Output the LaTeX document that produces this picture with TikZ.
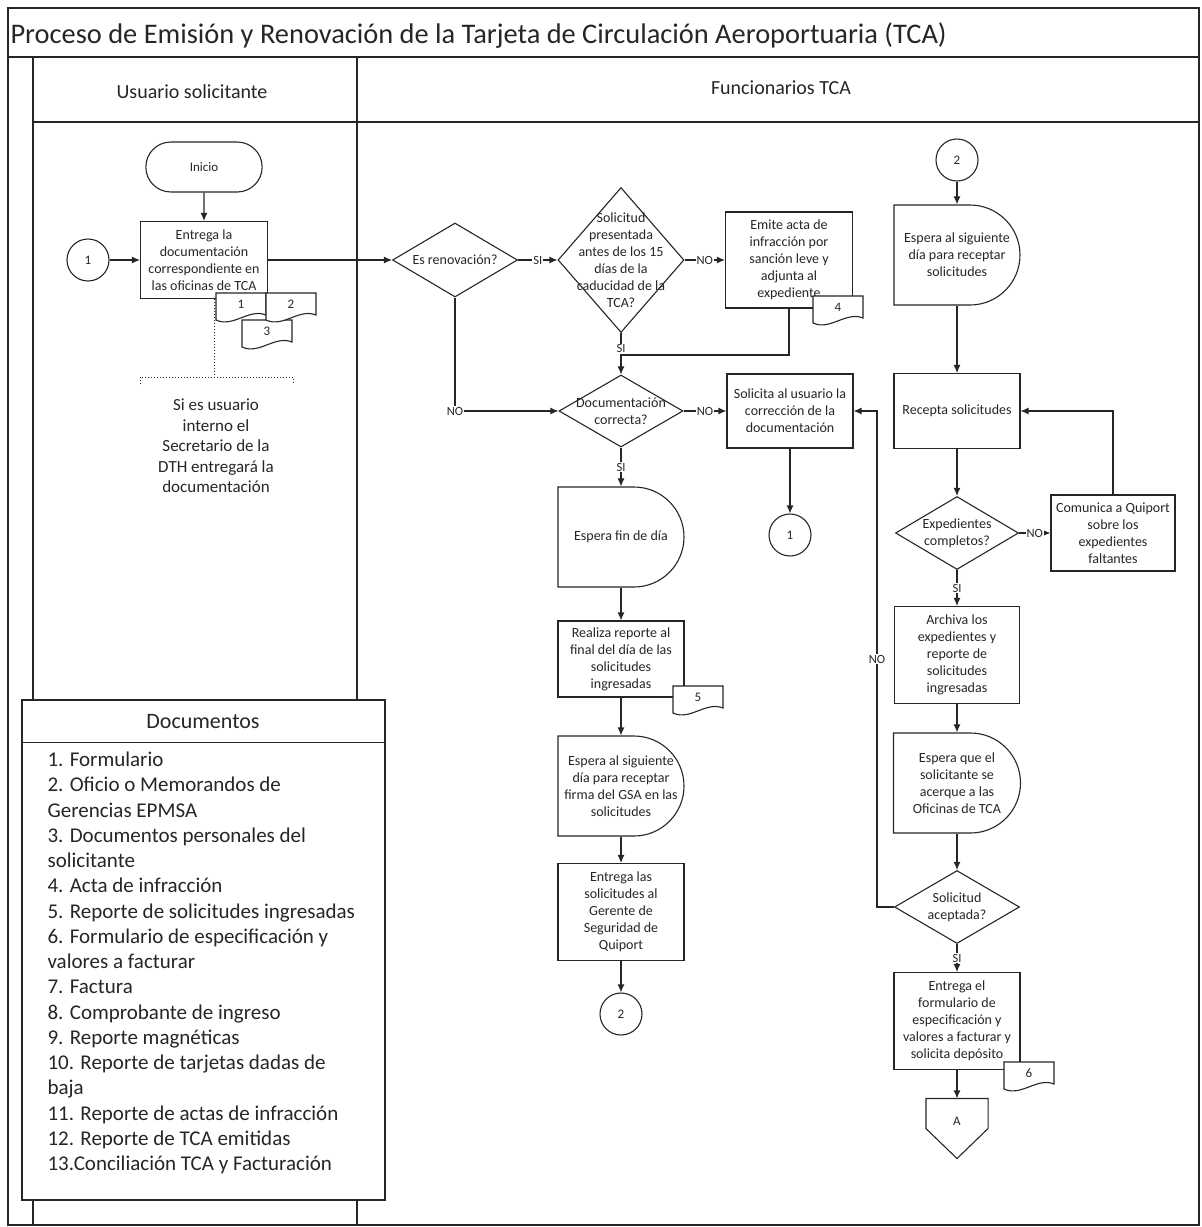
\documentclass[tikz,border=0pt]{standalone}
\usepackage{fontspec}
\setmainfont{Carlito}
\usetikzlibrary{shapes.geometric,shapes.misc,calc,arrows.meta}

% sheet with a wavy lower edge: name, x, y (centre), number
\newcommand{\docsheet}[4]{%
  \draw[fill=white] (#2-25,#3-14) -- (#2+25,#3-14) -- (#2+25,#3+8)
    .. controls (#2+8,#3+1) and (#2-8,#3+21) .. (#2-25,#3+13) -- cycle;
  \node[numtxt] (#1) at (#2,#3-3) {#4};}

\begin{document}
\begin{tikzpicture}[x=1pt, y=-1pt, >={Latex[length=8pt,width=7pt]}, line width=1.1pt, color=black!85,
    font=\fontsize{14}{17}\selectfont,
    box/.style={draw, fill=white, align=center, minimum width=126, minimum height=76, inner sep=2pt},
    startend/.style={rounded rectangle, draw, fill=white, minimum width=123, minimum height=50, font=\fontsize{13}{15}\selectfont},
    decide/.style={diamond, draw, fill=white, inner sep=0pt, minimum width=124, minimum height=73},
    waitbox/.style={rounded rectangle, rounded rectangle left arc=none, draw, fill=white, inner sep=0pt, minimum width=126, minimum height=100},
    intxt/.style={align=center, inner sep=0pt},
    conn/.style={circle, draw, fill=white, minimum size=42, inner sep=0pt, font=\fontsize{13}{15}\selectfont},
    numtxt/.style={inner sep=0pt, font=\fontsize{13}{15}\selectfont},
    lbl/.style={fill=white, inner sep=1pt, font=\fontsize{12.5}{15}\selectfont},
    listtxt/.style={anchor=base west, inner sep=0pt, font=\fontsize{21}{25}\selectfont},
    arr/.style={->},
    lane/.style={line width=1.4pt},
    note/.style={dotted, line width=1pt}]
  \useasboundingbox (0,0) rectangle (1202,1227);

  % frame and lanes
  \draw[lane] (8,8) rectangle (1199,1225);
  \draw[lane] (8,57) -- (1199,57);
  \draw[lane] (33,57) -- (33,1225);
  \draw[lane] (33,122) -- (1199,122);
  \draw[lane] (357,57) -- (357,1225);
  \node[anchor=base west, inner sep=0pt, font=\fontsize{28.4}{34}\selectfont] (title) at (10,43) {Proceso de Emisión y Renovación de la Tarjeta de Circulación Aeroportuaria (TCA)};
  \node[font=\fontsize{20}{24}\selectfont] (hdrU) at (192,92) {Usuario solicitante};
  \node[font=\fontsize{20}{24}\selectfont] (hdrF) at (781,88) {Funcionarios TCA};

  % usuario solicitante
  \node[startend] (inicio) at (204,167) {Inicio};
  \node[box, minimum width=127, minimum height=77] (entrega) at (204,260) {Entrega la\\documentación\\correspondiente en\\las oficinas de TCA};
  \node[conn] (c1a) at (88,260) {1};
  \docsheet{doc3}{267}{334}{3}
  \docsheet{doc1}{241}{307}{1}
  \docsheet{doc2}{291}{307}{2}
  \draw[arr] (inicio) -- (entrega);
  \draw[arr] (c1a) -- (entrega);
  \coordinate (brk) at (214,377);
  \draw[note] (entrega.south -| brk) -- (brk);
  \draw[note] ($(brk)+(-74,7)$) |- ($(brk)+(79,0)$) -- ++(0,7);
  \node[intxt, font=\fontsize{17}{20.5}\selectfont] (nota) at (216,446) {Si es usuario\\interno el\\Secretario de la\\DTH entregará la\\documentación};

  % funcionarios TCA, first column
  \node[decide, minimum width=125, minimum height=74, label={[intxt]center:Es renovación?}] (renov) at (455,260) {};
  \node[decide, minimum width=126, minimum height=145, label={[intxt]center:{Solicitud\\presentada\\antes de los 15\\días de la\\caducidad de la\\TCA?}}] (plazo) at (621,260) {};
  \node[box, minimum width=127, minimum height=96] (emite) at (789,260) {Emite acta de\\infracción por\\sanción leve y\\adjunta al\\expediente};
  \docsheet{doc4}{838}{310}{4}
  \node[decide, minimum width=124, minimum height=72, label={[intxt]center:{Documentación\\correcta?}}] (doccorr) at (621,411) {};
  \node[box, minimum width=126, minimum height=74] (corrige) at (790,411) {Solicita al usuario la\\corrección de la\\documentación};
  \node[conn] (c1b) at (790,535) {1};
  \node[waitbox, label={[intxt]center:Espera fin de día}] (finDia) at (621,537) {};
  \node[box, minimum width=126, minimum height=76] (reporte) at (621,659) {Realiza reporte al\\final del día de las\\solicitudes\\ingresadas};
  \docsheet{doc5}{698}{700}{5}
  \node[waitbox, label={[intxt]center:{Espera al siguiente\\día para receptar\\firma del GSA en las\\solicitudes}}] (firma) at (621,786) {};
  \node[box, minimum width=126, minimum height=97] (gerente) at (621,912) {Entrega las\\solicitudes al\\Gerente de\\Seguridad de\\Quiport};
  \node[conn] (c2a) at (621,1014) {2};

  \draw[arr] (entrega) -- (renov);
  \draw[arr] (renov) -- node[lbl] {SI} (plazo);
  \draw[arr] (plazo) -- node[lbl] {NO} (emite);
  \coordinate (join) at (621,355);
  \draw (emite.south) |- (join);
  \draw[arr] (plazo.south) -- node[lbl, pos=0.38] {SI} (doccorr.north);
  \draw[arr] (renov.south) |- node[lbl, pos=0.5] {NO} (doccorr.west);
  \draw[arr] (doccorr) -- node[lbl] {NO} (corrige);
  \draw[arr] (corrige) -- (c1b);
  \draw[arr] (doccorr) -- node[lbl] {SI} (finDia);
  \draw[arr] (finDia) -- (reporte);
  \draw[arr] (reporte) -- (firma);
  \draw[arr] (firma) -- (gerente);
  \draw[arr] (gerente) -- (c2a);

  % funcionarios TCA, second column
  \node[conn] (c2b) at (957,160) {2};
  \node[waitbox, label={[intxt]center:{Espera al siguiente\\día para receptar\\solicitudes}}] (sigDia) at (957,255) {};
  \node[box, minimum height=75] (recepta) at (957,411) {Recepta solicitudes};
  \node[decide, minimum width=123, minimum height=73, label={[intxt]center:{Expedientes\\completos?}}] (complet) at (957,533) {};
  \node[box, minimum width=124, minimum height=76] (comunica) at (1113,533) {Comunica a Quiport\\sobre los\\expedientes\\faltantes};
  \node[box, minimum width=125, minimum height=97] (archiva) at (957,655) {Archiva los\\expedientes y\\reporte de\\solicitudes\\ingresadas};
  \node[waitbox, minimum width=127, label={[intxt]center:{Espera que el\\solicitante se\\acerque a las\\Oficinas de TCA}}] (acerque) at (957,783) {};
  \node[decide, minimum width=125, minimum height=73, label={[intxt]center:{Solicitud\\aceptada?}}] (acepta) at (957,907) {};
  \node[box, minimum width=126, minimum height=97] (formul) at (957,1021) {Entrega el\\formulario de\\especificación y\\valores a facturar y\\solicita depósito};
  \docsheet{doc6}{1029}{1076}{6}
  \node[minimum width=61, minimum height=59, inner sep=0pt] (offA) at (957,1128.5) {};
  \draw[fill=white] (offA.north west) -- (offA.north east) -- (offA.east) -- (offA.south) -- (offA.west) -- cycle;
  \node[numtxt] (offAT) at (957,1121) {A};

  \draw[arr] (c2b) -- (sigDia);
  \draw[arr] (sigDia) -- (recepta);
  \draw[arr] (recepta) -- (complet);
  \draw[arr] (complet) -- node[lbl] {NO} (comunica);
  \draw[arr] (comunica.north) |- (recepta.east);
  \draw[arr] (complet) -- node[lbl] {SI} (archiva);
  \draw[arr] (archiva) -- (acerque);
  \draw[arr] (acerque) -- (acepta);
  \draw[arr] (acepta) -- node[lbl] {SI} (formul);
  \draw[arr] (formul) -- (offA);
  \coordinate (back) at (877,411);
  \draw[arr] (acepta.west) -| node[lbl, pos=0.75] {NO} (back) -- (corrige.east);

  % documentos
  \node[draw, fill=white, lane, minimum width=363, minimum height=500, inner sep=0pt] (docbox) at (203.5,950) {};
  \draw ($(docbox.north west)+(0,43)$) -- ($(docbox.north east)+(0,43)$);
  \node[font=\fontsize{22}{26}\selectfont] (dochd) at (203,722) {Documentos};
  \foreach \entry [count=\i] in {1. Formulario, 2. Oficio o Memorandos de, Gerencias EPMSA,
      3. Documentos personales del, solicitante, 4. Acta de infracción,
      5. Reporte de solicitudes ingresadas, 6. Formulario de especificación y,
      valores a facturar, 7. Factura, 8. Comprobante de ingreso, 9. Reporte magnéticas,
      10. Reporte de tarjetas dadas de, baja, 11. Reporte de actas de infracción,
      12. Reporte de TCA emitidas, 13.Conciliación TCA y Facturación}
    \node[listtxt] (li\i) at (47,{766.5+25.25*(\i-1)}) {\entry};
\end{tikzpicture}
\end{document}
